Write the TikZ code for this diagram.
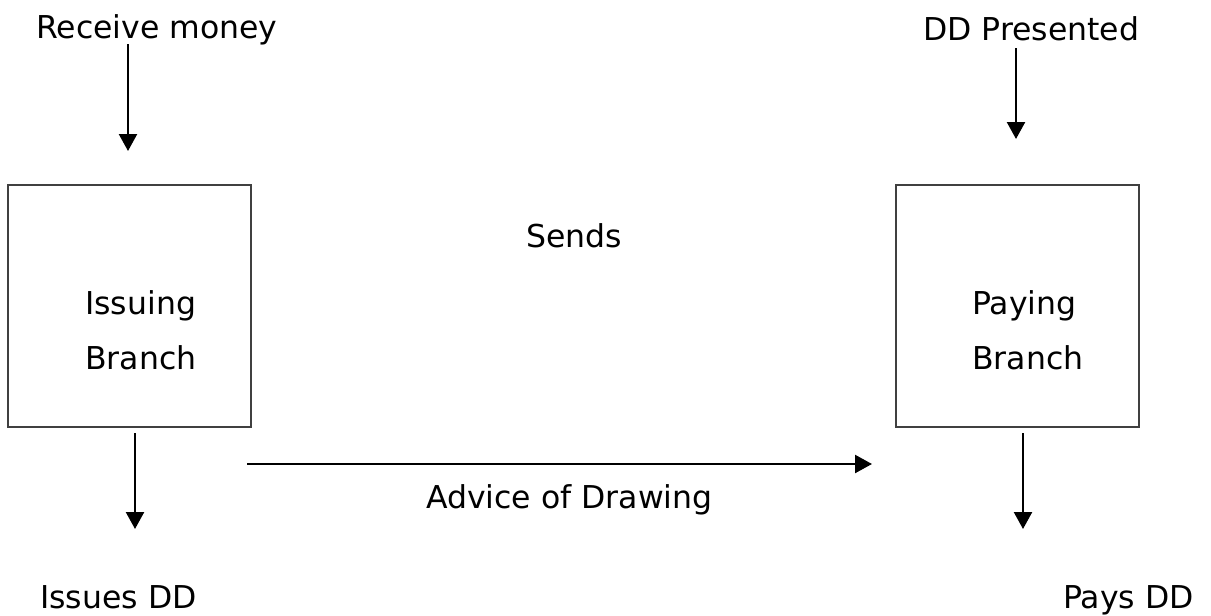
\documentclass[tikz,border=0pt]{standalone}
\usepackage{fontspec}
\setmainfont{DejaVu Sans}
\usetikzlibrary{arrows.meta}
\definecolor{boxline}{HTML}{404040}
\begin{document}
\begin{tikzpicture}[x=1pt,y=-1pt,
  lbl/.style={inner sep=0pt, anchor=base west, font=\fontsize{31.5}{36}\selectfont},
  branchbox/.style={draw=boxline, line width=1.4pt, minimum width=243pt, minimum height=242pt, inner sep=0pt},
  arr/.style={line width=2.4pt, -{Triangle[length=17pt,width=18pt]}}]
\useasboundingbox (0,0) rectangle (1211,616);
% labels
\node[lbl] (recv) at (36,38) {Receive money};
\node[lbl] (pres) at (923,40) {DD Presented};
\node[lbl] (sends) at (526,247) {Sends};
\node[lbl] (advice) at (426,508) {Advice of Drawing};
\node[lbl] (issues) at (40,608) {Issues DD};
\node[lbl] (pays) at (1063,608) {Pays DD};
% boxes
\node[branchbox] (issue) at (129.5,306) {};
\node[branchbox] (pay) at (1017.5,306) {};
\node[lbl] (issueA) at (85,314) {Issuing};
\node[lbl] (issueB) at (85,369) {Branch};
\node[lbl] (payA) at (972,314) {Paying};
\node[lbl] (payB) at (972,369) {Branch};
% arrow end points
\coordinate (r1) at (128,44);
\coordinate (r2) at (128,151);
\coordinate (p1) at (1016,48);
\coordinate (p2) at (1016,139);
\coordinate (i1) at (135,433);
\coordinate (i2) at (135,529);
\coordinate (q1) at (1023,433);
\coordinate (q2) at (1023,529);
\coordinate (h1) at (247,464);
\coordinate (h2) at (872,464);
% arrows
\draw[arr] (r1) -- (r2);
\draw[arr] (p1) -- (p2);
\draw[arr] (i1) -- (i2);
\draw[arr] (q1) -- (q2);
\draw[arr] (h1) -- (h2);
\end{tikzpicture}
\end{document}
